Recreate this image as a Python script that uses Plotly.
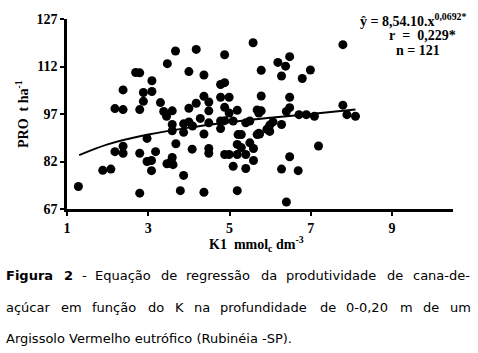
import unicodedata
import plotly.graph_objects as go

# ---------------- data ----------------
k_values = [3.67, 4.18, 5.58, 4.88, 7.79, 6.48, 6.19, 6.38, 3.47, 2.69,
            2.79, 4.00, 5.78, 6.28, 6.99, 6.79, 4.37, 3.09, 4.78, 4.88,
            2.38, 2.88, 3.09, 4.37, 4.78, 4.99, 5.78, 6.48, 2.88, 3.30,
            4.18, 4.49, 7.79, 4.00, 4.88, 6.48, 2.18, 2.38, 2.79, 3.38,
            3.59, 4.49, 5.19, 5.68, 5.78, 4.99, 6.40, 6.71, 6.89, 7.09,
            7.89, 8.10, 5.72, 3.45, 4.28, 3.59, 3.87, 4.00, 4.09, 4.49,
            4.78, 4.88, 5.09, 5.40, 5.50, 6.07, 5.99, 6.28, 5.99, 5.74,
            5.92, 3.59, 3.87, 4.78, 4.37, 5.21, 5.29, 5.68, 2.97, 3.68,
            4.08, 4.49, 4.49, 5.19, 5.50, 5.59, 5.29, 7.19, 2.18, 2.38,
            2.38, 2.79, 3.18, 4.88, 4.99, 5.19, 5.40, 6.48, 3.59, 2.97,
            3.08, 3.53, 3.61, 3.46, 5.59, 3.08, 1.88, 2.08, 5.09, 5.40,
            6.28, 6.69, 3.87, 1.28, 2.79, 3.79, 4.37, 5.19, 6.40, 5.72,
            3.57]
pro_values = [116.9, 117.4, 119.5, 115.7, 118.9, 115.1, 113.3, 112.1, 112.9, 110.1,
              110.0, 110.4, 110.8, 109.0, 110.9, 108.2, 109.3, 107.5, 106.3, 106.9,
              104.6, 103.8, 104.1, 102.6, 102.3, 102.3, 102.7, 102.3, 101.0, 100.6,
              100.4, 100.8, 99.8, 98.8, 99.1, 99.0, 98.7, 98.4, 98.4, 97.8,
              98.0, 98.0, 98.2, 98.3, 98.0, 97.3, 97.8, 96.8, 96.8, 96.3,
              96.8, 96.3, 97.3, 96.3, 95.6, 93.7, 93.9, 94.5, 93.2, 94.2,
              94.8, 94.9, 94.8, 94.2, 94.8, 94.5, 93.5, 93.7, 91.5, 90.7,
              92.2, 91.7, 91.2, 92.4, 90.7, 90.5, 90.5, 90.5, 89.3, 87.6,
              85.9, 86.1, 84.6, 87.4, 87.9, 86.1, 86.4, 86.9, 85.1, 86.8,
              84.6, 84.6, 85.1, 84.2, 84.2, 84.2, 84.2, 83.5, 83.3, 82.0,
              82.3, 81.5, 81.0, 81.3, 82.3, 79.1, 79.2, 79.6, 80.5, 79.8,
              79.6, 79.1, 77.6, 74.1, 72.0, 72.8, 72.3, 72.8, 69.2, 90.9,
              82.0]

# regression curve
curve_k = [1.3, 2.0, 3.0, 4.0, 5.0, 6.0, 7.0, 8.1]
curve_pro = [84.0, 87.4, 90.5, 92.7, 94.4, 95.8, 97.0, 98.4]

x_ticks = [1, 3, 5, 7, 9]
y_ticks = [67, 82, 97, 112, 127]

eq_lines = ["ŷ = 8,54.10.x<sup>0,0692*</sup>", "r\u00a0 = \u00a00,229*", "n = 121"]
x_title = "K1\u00a0 mmol<sub>c</sub> dm<sup>-3</sup>"
y_title = "PRO\u00a0 t ha<sup>-1</sup>"

caption_1 = [("Figura", True), ("2", True), ("-", False), ("Equação", False), ("de", False),
             ("regressão", False), ("da", False), ("produtividade", False), ("de", False),
             ("cana-de-", False)]
caption_2 = ["açúcar", "em", "função", "do", "K", "na", "profundidade", "de", "0-0,20",
             "m", "de", "um"]
caption_3 = "Argissolo Vermelho eutrófico (Rubinéia -SP)."

# ---------------- layout geometry ----------------
W, H = 478, 353
L, R, T, B = 67, 25, 13, 144
PW, PH = W - L - R, H - T - B


def px(x):
    return (x - L) / PW


def py(y):
    return (H - B - y) / PH


SERIF = "Liberation Serif"
SANS = "DejaVu Sans"
CAP_SIZE = 13

CW = {'a': .613, 'b': .635, 'c': .550, 'd': .635, 'e': .615, 'f': .352, 'g': .635,
      'h': .634, 'i': .278, 'j': .278, 'k': .579, 'l': .278, 'm': .974, 'n': .634,
      'o': .612, 'p': .635, 'q': .635, 'r': .411, 's': .521, 't': .392, 'u': .634,
      'v': .592, 'w': .818, 'x': .592, 'y': .592, 'z': .525, 'A': .684, 'E': .632,
      'F': .575, 'K': .656, 'R': .695, 'S': .635, 'P': .603, 'V': .684, '-': .361,
      ',': .318, '.': .318, '(': .390, ')': .390, ' ': .318}


def text_w(s, size, bold=False):
    w = 0
    for c in s:
        base = unicodedata.normalize('NFD', c)[0]
        w += CW.get(base, .636)
    w *= size * 1.025
    return w * 1.17 if bold else w


fig = go.Figure()

fig.add_trace(go.Scatter(
    x=k_values, y=pro_values, mode="markers",
    marker=dict(color="black", size=9, line=dict(width=0)),
    showlegend=False, hoverinfo="skip"))

fig.add_trace(go.Scatter(
    x=curve_k, y=curve_pro, mode="lines",
    line=dict(color="black", width=2, shape="spline"),
    showlegend=False, hoverinfo="skip"))

axis_common = dict(showline=True, linecolor="black", linewidth=2.5, ticks="outside",
                   ticklen=4, tickwidth=2, tickcolor="black", showgrid=False,
                   zeroline=False,
                   tickfont=dict(family=SERIF, size=14, color="black", weight="bold"))

fig.update_xaxes(range=[1, 10.5], tickvals=x_ticks, **axis_common)
fig.update_yaxes(range=[67, 127], tickvals=y_ticks, **axis_common)

ann = []
# equation block
eq_pos = [(413, 14), (422, 30), (418, 45)]
for txt, (x0, y0) in zip(eq_lines, eq_pos):
    ann.append(dict(text="<b>" + txt + "</b>", x=px(x0), y=py(y0), xref="paper", yref="paper",
                    xanchor="center", yanchor="middle", showarrow=False,
                    font=dict(family=SERIF, size=14, color="black")))

# axis titles
ann.append(dict(text="<b>" + x_title + "</b>", x=px(256), y=py(245), xref="paper", yref="paper",
                xanchor="center", yanchor="middle", showarrow=False,
                font=dict(family=SERIF, size=14, color="black")))
ann.append(dict(text="<b>" + y_title + "</b>", x=px(22), y=py(111), xref="paper", yref="paper",
                xanchor="center", yanchor="middle", showarrow=False, textangle=-90,
                font=dict(family=SERIF, size=14, color="black")))


# justified caption lines
def justify(words, x0, x1, yc):
    widths = [text_w(w, CAP_SIZE, b) for w, b in words]
    gap = (x1 - x0 - sum(widths)) / (len(words) - 1)
    x = x0
    for (w, b), wd in zip(words, widths):
        t = "<b>" + w + "</b>" if b else w
        ann.append(dict(text=t, x=px(x), y=py(yc), xref="paper", yref="paper",
                        xanchor="left", yanchor="middle", showarrow=False, borderpad=0,
                        font=dict(family=SANS, size=CAP_SIZE, color="black")))
        x += wd + gap


justify(caption_1, 5, 470, 278)
justify([(w, False) for w in caption_2], 5, 470, 311)
ann.append(dict(text=caption_3, x=px(5), y=py(343), xref="paper", yref="paper",
                xanchor="left", yanchor="middle", showarrow=False, borderpad=0,
                font=dict(family=SANS, size=CAP_SIZE, color="black")))

fig.update_layout(width=W, height=H, margin=dict(l=L, r=R, t=T, b=B),
                  paper_bgcolor="white", plot_bgcolor="white", annotations=ann)

fig.write_html("out.html", config={"displayModeBar": False},
               post_script="document.body.style.margin='0';document.body.style.overflow='hidden';")
